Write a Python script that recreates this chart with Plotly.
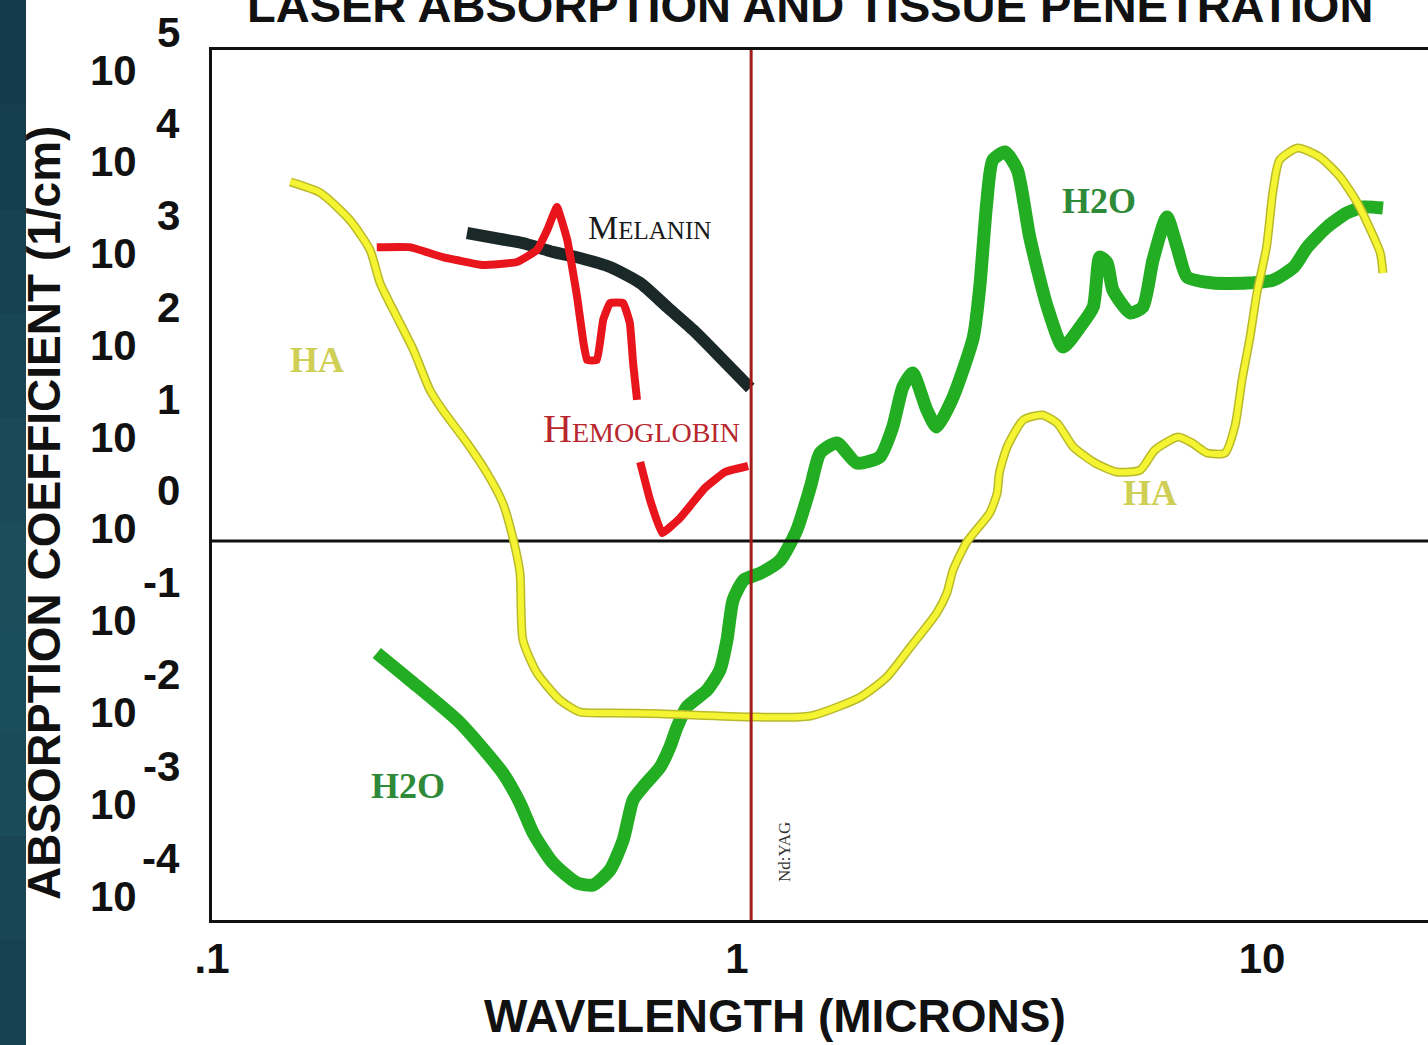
import plotly.graph_objects as go

# ---------------- data ----------------
# Hydroxyapatite (HA)
ha_wl = [0.141, 0.161, 0.183, 0.200, 0.209, 0.225, 0.242, 0.260, 0.275, 0.306, 0.334, 0.358,
         0.375, 0.386, 0.391, 0.416, 0.460, 0.502, 0.573, 0.714, 1.06, 1.38, 1.72, 1.93, 2.14,
         2.40, 2.51, 2.58, 2.74, 3.03, 3.13, 3.16, 3.27, 3.51, 3.81, 4.07, 4.37, 4.81, 5.29,
         5.86, 6.25, 6.92, 7.36, 7.86, 8.50, 8.89, 9.16, 9.49, 9.78, 10.2, 10.5, 10.8, 11.7,
         12.9, 14.1, 15.2, 16.1, 16.8, 17.0]
ha_abs = [8150, 6180, 3140, 1480, 646, 275, 120, 44.2, 26.7, 11.7, 5.50, 2.59,
          1.03, 0.448, 0.0835, 0.0365, 0.0185, 0.0137, 0.0134, 0.0131, 0.0121, 0.0124, 0.0200, 0.0330, 0.0700,
          0.164, 0.271, 0.483, 0.975, 2.02, 3.33, 5.50, 10.6, 20.8, 23.6, 19.3, 10.6, 7.07, 5.64,
          5.93, 9.80, 13.6, 11.7, 9.09, 9.09, 18.3, 56.7, 167, 503, 1590, 6660, 14100, 19100,
          15200, 9230, 4810, 2440, 1370, 830]

# Hemoglobin (visible band and near-IR band)
hb_vis_wl = [0.206, 0.238, 0.275, 0.328, 0.381, 0.416, 0.435, 0.454, 0.475, 0.496, 0.509, 0.518,
             0.541, 0.556, 0.573, 0.607, 0.625, 0.634, 0.645]
hb_vis_abs = [1590, 1590, 1240, 1015, 1094, 1480, 2440, 4350, 1900, 455, 155, 93.7,
              93.7, 256, 391, 391, 237, 86.9, 34.4]
hb_nir_wl = [0.654, 0.683, 0.720, 0.779, 0.869, 0.949, 1.05]
hb_nir_abs = [7.25, 2.80, 1.22, 1.78, 3.78, 5.64, 6.56]

# Melanin
mel_wl = [0.306, 0.354, 0.391, 0.446, 0.502, 0.573, 0.654, 0.736, 0.825, 0.928, 1.06]
mel_abs = [2265, 1950, 1760, 1410, 1210, 965, 646, 354, 199, 101, 46.4]

# Water (H2O)
h2o_wl = [0.206, 0.238, 0.297, 0.358, 0.386, 0.409, 0.446, 0.496, 0.532, 0.573, 0.607, 0.634,
          0.662, 0.714, 0.745, 0.769, 0.803, 0.877, 0.928, 0.957, 0.983, 1.03, 1.11, 1.21,
          1.30, 1.38, 1.44, 1.55, 1.69, 1.87, 1.98, 2.07, 2.16, 2.30, 2.40, 2.58, 2.82, 2.90,
          2.99, 3.07, 3.24, 3.42, 3.61, 3.90, 4.18, 4.50, 4.77, 4.91, 5.07, 5.20, 5.61, 5.93,
          6.20, 6.59, 6.89, 7.20, 8.07, 9.36, 10.5, 11.5, 12.2, 13.3, 14.5, 15.6, 17.0]
h2o_abs = [0.0603, 0.0306, 0.0104, 0.00297, 0.00140, 0.000659, 0.000311, 0.000188, 0.000179,
           0.000261, 0.000553, 0.00151, 0.00209, 0.00345, 0.00570, 0.00942, 0.0156, 0.0238,
           0.0393, 0.0835, 0.228, 0.376, 0.448, 0.621, 1.32, 3.88, 9.09, 11.7, 7.07, 8.22,
           17.5, 47.6, 67.6, 26.7, 17.5, 37.0, 167, 585, 4810, 14100, 17300, 11000, 2050,
           354, 130, 214, 354, 1240, 1070, 542, 305, 354, 1150, 3380, 1590, 751, 646, 646,
           697, 965, 1590, 2630, 3740, 4350, 4240]

ndyag_wl = 1.064
unity_level = 1.0

x_tick_vals = [0.1, 1, 10]
x_tick_text = [".1", "1", "10"]
y_exponents = [5, 4, 3, 2, 1, 0, -1, -2, -3, -4]

# ---------------- figure ----------------
W, H = 1428, 1045
L, R, T, B = 212, 0, 50, 125
pw, ph = W - L - R, H - T - B


def px_to_paper_x(px):
    return (px - L) / pw


def py_to_paper_y(py):
    return (H - B - py) / ph


SANS = "Liberation Sans, Arial, sans-serif"
SERIF = "Liberation Serif, Times New Roman, serif"

fig = go.Figure()

# water
fig.add_trace(go.Scatter(x=h2o_wl, y=h2o_abs, mode="lines",
                         line=dict(color="#22ad22", width=13, shape="spline", smoothing=0.6),
                         hoverinfo="skip"))
# unity reference line
fig.add_trace(go.Scatter(x=[0.1, 25], y=[unity_level, unity_level], mode="lines",
                         line=dict(color="#111111", width=3), hoverinfo="skip"))
# melanin
fig.add_trace(go.Scatter(x=mel_wl, y=mel_abs, mode="lines",
                         line=dict(color="#1b2828", width=12, shape="spline", smoothing=0.6),
                         hoverinfo="skip"))
# hemoglobin
for wl, ab in ((hb_vis_wl, hb_vis_abs), (hb_nir_wl, hb_nir_abs)):
    fig.add_trace(go.Scatter(x=wl, y=ab, mode="lines",
                             line=dict(color="#e8151c", width=8, shape="spline", smoothing=0.3),
                             hoverinfo="skip"))
# HA (outlined yellow)
fig.add_trace(go.Scatter(x=ha_wl, y=ha_abs, mode="lines",
                         line=dict(color="#b9b92a", width=9, shape="spline", smoothing=0.6),
                         hoverinfo="skip"))
fig.add_trace(go.Scatter(x=ha_wl, y=ha_abs, mode="lines",
                         line=dict(color="#f4f432", width=6, shape="spline", smoothing=0.6),
                         hoverinfo="skip"))

# Nd:YAG vertical line
fig.add_shape(type="line", xref="x", yref="paper", x0=ndyag_wl, x1=ndyag_wl, y0=0, y1=1,
              line=dict(color="#a31a1a", width=3), layer="above")

# teal strip at the left edge (slide decoration)
strip_cols = ["#143b4a", "#153e4d", "#164251", "#184654", "#1a4a58", "#1b4d5b",
              "#1b4e5c", "#1a4b59", "#184655", "#164150"]
n = len(strip_cols)
for i, c in enumerate(strip_cols):
    y_top = i * H / n
    y_bot = (i + 1) * H / n + 1
    fig.add_shape(type="rect", xref="paper", yref="paper",
                  x0=px_to_paper_x(-2), x1=px_to_paper_x(26),
                  y0=py_to_paper_y(y_bot), y1=py_to_paper_y(y_top),
                  fillcolor=c, line=dict(width=0), layer="above")

ann = []
# y tick labels: 10 with raised exponent
for k in y_exponents:
    ann.append(dict(x=px_to_paper_x(139), xref="paper", y=k, yref="y", text="<b>10</b>",
                    xanchor="right", yanchor="middle", yshift=12, showarrow=False,
                    font=dict(family=SANS, size=42, color="#111111")))
    ann.append(dict(x=px_to_paper_x(182), xref="paper", y=k, yref="y", text="<b>%d</b>" % k,
                    xanchor="right", yanchor="middle", yshift=50, showarrow=False,
                    font=dict(family=SANS, size=42, color="#111111")))

# curve labels
ann += [
    dict(x=-0.8, y=1.972, text="<b>HA</b>", font=dict(family=SERIF, size=36, color="#cfcf55")),
    dict(x=0.787, y=0.523, text="<b>HA</b>", font=dict(family=SERIF, size=36, color="#cfcf55")),
    dict(x=-0.627, y=-2.669, text="<b>H2O</b>", font=dict(family=SERIF, size=36, color="#2e8a38")),
    dict(x=0.690, y=3.704, text="<b>H2O</b>", font=dict(family=SERIF, size=36, color="#2e8a38")),
    dict(x=-0.166, y=3.42,
         text="<span style='font-size:34px'>M</span>ELANIN",
         font=dict(family=SERIF, size=25, color="#1a1a1a")),
    dict(x=-0.181, y=1.231,
         text="<span style='font-size:40px'>H</span>EMOGLOBIN",
         font=dict(family=SERIF, size=28, color="#b8262e")),
    dict(x=0.0269, y=-3.388, xshift=34, text="Nd:YAG", textangle=-90,
         font=dict(family=SERIF, size=17, color="#333333")),
]
for a in ann[-7:]:
    a.setdefault("xref", "x")
    a.setdefault("yref", "y")
    a["showarrow"] = False
    a["xanchor"] = "center"
    a["yanchor"] = "middle"

# axis titles and chart title
ann += [
    dict(x=px_to_paper_x(810), y=py_to_paper_y(6), xref="paper", yref="paper",
         text="<b>LASER ABSORPTION AND TISSUE PENETRATION</b>", showarrow=False,
         xanchor="center", yanchor="middle",
         font=dict(family=SANS, size=47, color="#111111")),
    dict(x=px_to_paper_x(775), y=py_to_paper_y(1016), xref="paper", yref="paper",
         text="<b>WAVELENGTH (MICRONS)</b>", showarrow=False,
         xanchor="center", yanchor="middle",
         font=dict(family=SANS, size=46, color="#111111")),
    dict(x=px_to_paper_x(44), y=py_to_paper_y(513), xref="paper", yref="paper",
         text="<b>ABSORPTION COEFFICIENT (1/cm)</b>", showarrow=False, textangle=-90,
         xanchor="center", yanchor="middle",
         font=dict(family=SANS, size=46, color="#111111")),
]

fig.update_layout(
    width=W, height=H,
    margin=dict(l=L, r=R, t=T, b=B, pad=0),
    paper_bgcolor="white", plot_bgcolor="white",
    showlegend=False,
    annotations=ann,
    xaxis=dict(type="log", range=[-1, 1.3162], tickvals=x_tick_vals,
               ticktext=["<b>%s</b>" % t for t in x_tick_text],
               showgrid=False, zeroline=False, showline=True, linecolor="#111111",
               linewidth=3, mirror=True, ticks="",
               tickfont=dict(family=SANS, size=42, color="#111111")),
    yaxis=dict(type="log", range=[-4.129, 5.349], showticklabels=False, showgrid=False,
               zeroline=False, showline=True, linecolor="#111111", linewidth=3,
               mirror=False, ticks=""),
)

fig.write_html("out.html",
               config={"displayModeBar": False},
               post_script="document.body.style.margin='0px';document.body.style.overflow='hidden';")
